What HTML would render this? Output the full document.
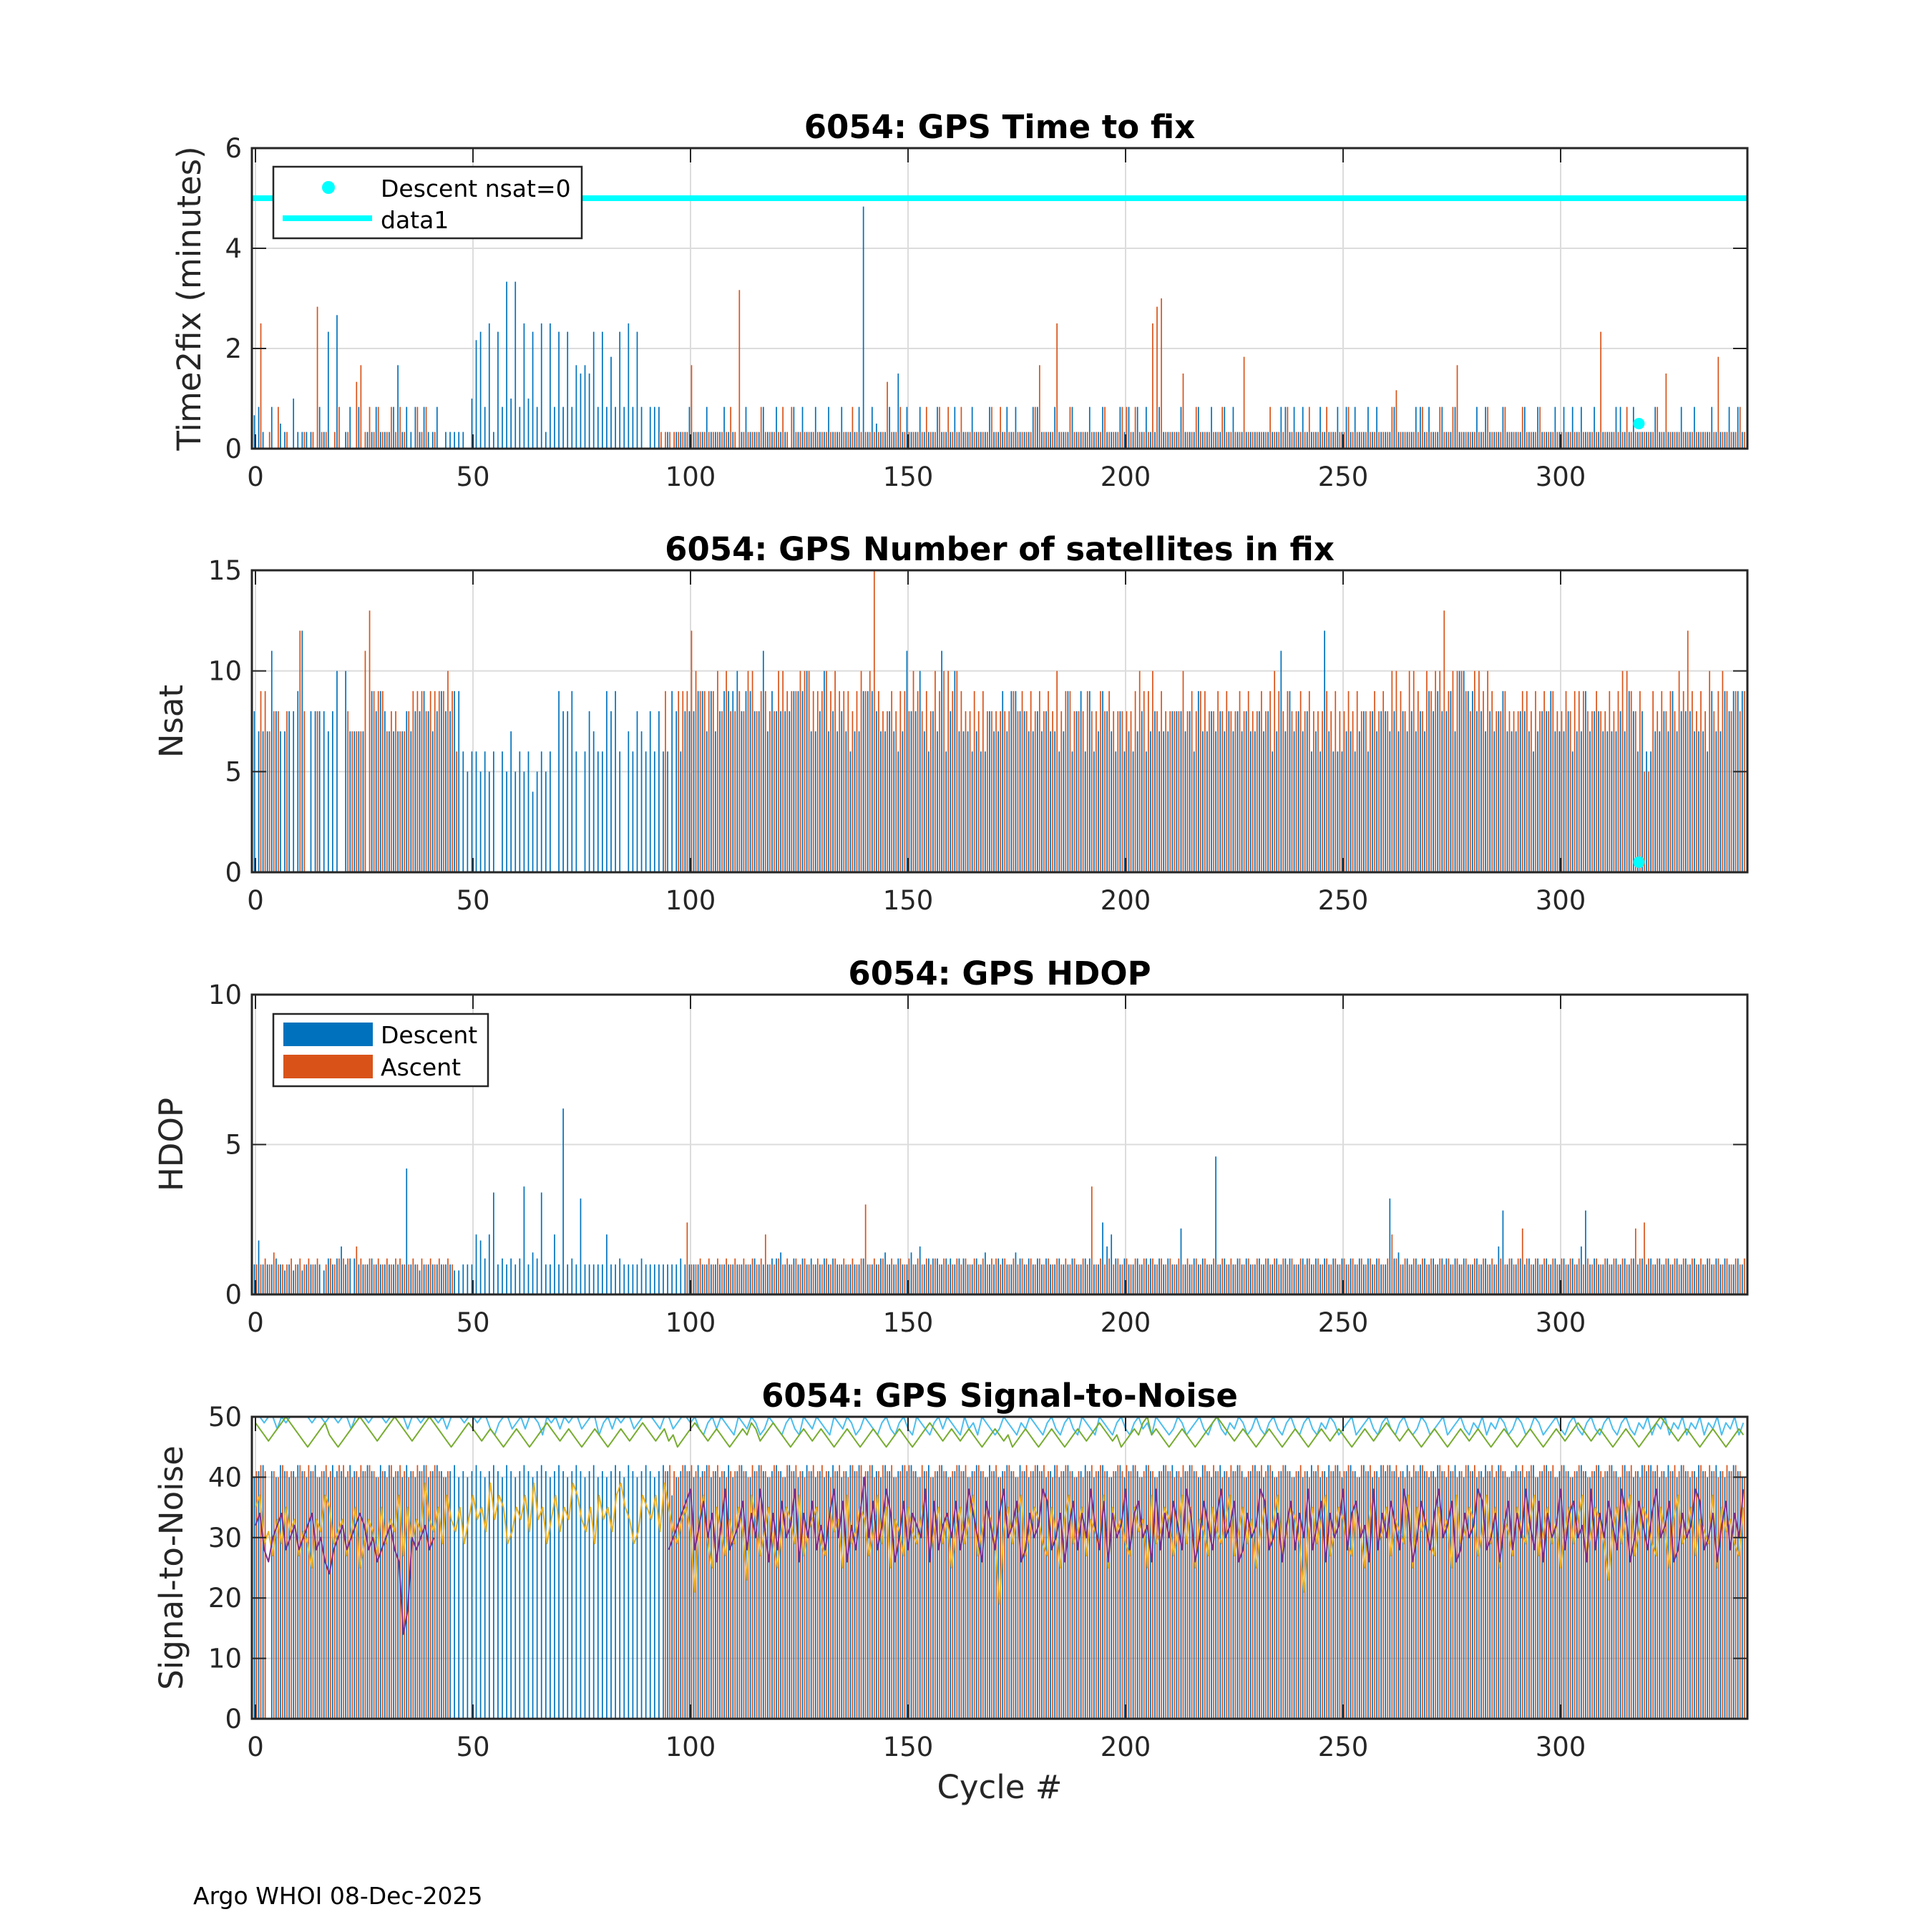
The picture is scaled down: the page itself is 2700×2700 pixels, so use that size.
<!DOCTYPE html>
<html><head><meta charset="utf-8"><title>6054 GPS</title>
<style>
html,body{margin:0;padding:0;background:#fff;}
svg{display:block;font-family:"DejaVu Sans","Liberation Sans",sans-serif;}
</style></head>
<body>
<svg id="fig" width="2700" height="2700" viewBox="0 0 2700 2700" xmlns="http://www.w3.org/2000/svg">
<rect x="0" y="0" width="2700" height="2700" fill="#fff"/>
<text x="270" y="2661" font-size="33" fill="#000">Argo WHOI 08-Dec-2025</text>
<text x="1397" y="2513" font-size="45" fill="#262626" text-anchor="middle">Cycle #</text>
</svg>
<script>
// ---- data (one char per cycle) ----
const xTicks = [0,50,100,150,200,250,300];
// time to fix, base36 units of 10 s
const t2fDescent = "4520503206"+"2222052E0G"+"0250502252"+"225A252525"+"2250222220"+"6DE5F2E5K6"+"K5F6E5F2F5"+"E5E5A9A9E5"+"E5B5E5F5E5"+"0555020222"+"5222522252"+"2025222522"+"5220525225"+"2252252225"+"T253225292"+"5225222522"+"2522252225"+"2225252225"+"5222522252"+"2252252225"+"2525252252"+"2225222522"+"5225252222"+"2222225525"+"2522252225"+"2525225252"+"2252222552"+"5225225222"+"2525222522"+"2252252225"+"2525252252"+"2225522522"+"2252222252"+"2522252225"+"252";
const t2fAscent = "0F02050200"+"0202H22025"+"0208A25252"+"2525200525"+"0200000000"+"0000000000"+"0000000000"+"0000000000"+"0000000000"+"0002222222"+"A222222225"+"2J22225222"+"2525222222"+"2222222522"+"2222282252"+"2222522525"+"2252222225"+"2522222225"+"A222F22522"+"2222252225"+"525222FHI2"+"2229225222"+"2252222B22"+"2225222522"+"2252225222"+"2522222222"+"2572222252"+"225225A222"+"2225222522"+"2522252222"+"222222222E"+"2222252222"+"2252922222"+"222222B222"+"252";
const t2fTicks = [0,2,4,6];
const nsatZeroCycle = [318];
const nsatZeroValue = [0.5];
const refLine = [5];
// number of satellites, hex
const nsatDescent = "8777B87788"+"9C0888878A"+"0A77770989"+"8777787889"+"8789889965"+"6656560657"+"5656456560"+"9889606876"+"6989607687"+"6868669868"+"8899797899"+"9A89988B79"+"8888999A77"+"8A78787677"+"9998778767"+"B88A7687B6"+"8A77767668"+"7797998877"+"8787767968"+"9696798768"+"6767867877"+"7888786977"+"8787878787"+"787867B797"+"878676C766"+"6776786878"+"8787878787"+"9898897AA9"+"9887878977"+"7887678897"+"7786779788"+"7777879868"+"6677879788"+"8777697798"+"999";
const nsatAscent = "0997880800"+"C800800000"+"08777BD999"+"7887789998"+"9999A96000"+"0000000000"+"0000000000"+"0000000000"+"0000000000"+"0000900999"+"CA9999A8A8"+"898AA89988"+"AA999AAA99"+"9A9A99989A"+"9AF9889899"+"8A9898A9AA"+"9A98898988"+"8888989898"+"9898A89988"+"8988989888"+"889A99A898"+"888A898998"+"8989889898"+"8989A98988"+"9898889898"+"8989888989"+"8AA98AA98A"+"9AAD9AAA98"+"AA9A988988"+"8998989898"+"8989998898"+"8989AA9895"+"5989898A9C"+"9898A89A98"+"989";
const nsatTicks = [0,5,10,15];
// HDOP, base36 units of 0.2
const hdopDescent = "5955565454"+"5455554656"+"8566555655"+"55555L5545"+"5555554455"+"5A96AH5656"+"56I576H55A"+"5V565G5555"+"5A55655556"+"5555555565"+"5555555555"+"5555565556"+"6755656565"+"5656555555"+"6555675565"+"5758566656"+"6566556575"+"5665576565"+"6565565565"+"56655C8A65"+"6556566565"+"655B556565"+"5N56556565"+"5656565665"+"5665656565"+"6565656565"+"5G67565656"+"5656656565"+"5656558E56"+"5656565656"+"565658E565"+"5656565656"+"5656565656"+"5655656565"+"565";
const hdopAscent = "5565755565"+"6565605656"+"6608656565"+"6566556565"+"6565650000"+"0000000000"+"0000000000"+"0000000000"+"0000000000"+"000000000C"+"5565656565"+"6565656A55"+"6565656556"+"5656565656"+"F565656565"+"6565656565"+"5656565656"+"6565656565"+"6565656565"+"65I5656565"+"6565656565"+"6565656565"+"6565656565"+"6565656565"+"6565656565"+"6565656565"+"6A65656565"+"6565656565"+"6565656565"+"6B65656565"+"6565656565"+"6565656B6C"+"6565656565"+"6565656565"+"656";
const hdopTicks = [0,5,10];
// SNR bars: 25 + base36
const snrDescent = "FGH0GFHGFG"+"HGFGHFGFHG"+"GFHGFGHGFH"+"GHFGFHGFGH"+"FGHGFGHFGF"+"GHGFGHGFHG"+"FGHGFGHGFG"+"HGFGHGFGHF"+"GFGHGFHGFG"+"HGFGHGCFGH"+"GFHGHFGFGH"+"FGHGFGHGFG"+"HGFHGFGHGF"+"GFGHGFGHGH"+"FGHGFHGFGH"+"GHGFGHFGHG"+"FGHGFGHGFH"+"GFGHGFHGFG"+"HGFGHFGHGF"+"GHGFGHGFGH"+"FGHGFHGFGH"+"GHGFGHGFHG"+"FGHGFGHGFG"+"HGFHGFGHGF"+"GFGHGFGHGH"+"FGHGFHGFGH"+"GHGFGHFGHG"+"FGHGFGHGFH"+"GFGHGFHGFG"+"HGFGHFGHGF"+"GHGFGHGFGH"+"FGHGFHGFGH"+"GHGFGHGFHG"+"FGHGFGHGFG"+"HGF";
const snrAscent = "GHG0GFHGGF"+"HGHGFGHGFH"+"HGFGHGHGFG"+"FHGHGFGHGH"+"GHGFG00000"+"0000000000"+"0000000000"+"0000000000"+"0000000000"+"0000GHGFHG"+"HGFGHGHGFG"+"GHGFHGHGFH"+"GFHGHGFGHG"+"HGFGHGFHGH"+"GHFGHGHFGH"+"HGFHGFGHGF"+"GHGHFGHGFG"+"HFGHGFGHGH"+"GHGFHGHGFG"+"FGHGHGFGHG"+"HGHFGHGFGH"+"GFGHGHGFHG"+"HGFGHGHFGH"+"GHGHFGHGFG"+"HGFGHGFGHG"+"GHGFHGHGFH"+"HGHGFGHGHG"+"GFHGHGFGHG"+"HGFGHGHGFG"+"GHGHFGHGHF"+"HGFGHGFGHG"+"GHGFHGHGFH"+"HGHGFGHGHG"+"GFHGHGFGHG"+"HGF";
// SNR lines: blue/green = 20 + base36 ; purple = 2*base36-16 ; yellow = 2*base36-13 ; '-' = gap
const snrBlue = "UUTUUSUTUU"+"UUUTUUTUUT"+"UUSUUUTUUU"+"TUUUUSUUTU"+"UUTUSUUUTU"+"UTUUSRTUUS"+"TUSUUTRUTU"+"SUTUUSTUUR"+"TUSUTUUSTU"+"UUTSUUSTUU"+"TUSRTUSUTS"+"RUTSUTRSUT"+"SRTUSRUTSU"+"TSRUTSUTRS"+"UTSRTUSRTU"+"SRUTSRTUSU"+"TSRUSTRUTS"+"RSUTSRTSUT"+"SRTUSRTUSR"+"UTSRUTSRTU"+"SRTUSTRUTS"+"RSUTRSTUSR"+"TUSRTSUTRS"+"USRTUSRTUS"+"RTUSRTSUTR"+"STURSTUSRT"+"USRTUSRSUT"+"RSTURSTUSR"+"TSURTSUTRS"+"UTRSUTRSTU"+"SRTUSRTUSR"+"TUSRTUSRTS"+"URTSURTSUR"+"TSURTSURTS"+"URT";
const snrGreen = "TSRQRSTUTS"+"RQPQRSTRQP"+"QRSTUTSRQR"+"STUTSRQRST"+"UTSRQPQRST"+"SRQRSRQPQR"+"SRQPQRSTSR"+"QRSRQPQRSR"+"QPQRSRQRST"+"SRQRSQRPQR"+"STSRQRSRQP"+"QRSRTSQRST"+"SRQPQRSRQR"+"SRQPQRSRQP"+"QRSRQPQRSR"+"QPQRSTSRQR"+"SRQRSRQPQR"+"SRQRPQRSRQ"+"PQRSRQPQRS"+"RQRSTSRQRP"+"QRSRTURSRQ"+"PQRSRQPQRS"+"TUTSRQRSRQ"+"PQRSRQPQRS"+"RQPQRSRQRS"+"RQPQRSRQRS"+"TSRQRSRQPQ"+"RSRQPQRSRQ"+"RSRQPQRSRQ"+"PQRSRQPQRS"+"RQRSTSRQRS"+"RQPQRSRQPQ"+"RSTUTSRQRS"+"RQPQRSRQPQ"+"RSR";
const snrPurple = "OPMLNOPMNO"+"MNOPMNLKMN"+"OMNOPOMNLM"+"NOMLFHNMNO"+"MN--------"+"----------"+"----------"+"----------"+"----------"+"-----MNOPQ"+"RMOQNPLORM"+"NOQMPNROLP"+"MQNORLPNQM"+"OMPRNQLOMP"+"SNQMORPLNQ"+"MPONRLQMOP"+"NQMORPNLQO"+"MPRNOQLMPN"+"ORQMNPLOQM"+"PNROMQLPNO"+"RMPQNOLRMP"+"NQOMRPLNQO"+"MPRNOQLMPN"+"ORQMNPLOQM"+"PNRMOQLPNO"+"RMPQNOLRMP"+"NQOMRPLNQO"+"MPRNOQLMPN"+"ORQMNPLOQM"+"PNROMQLPNO"+"RMPQNOLRMP"+"NQOMRPLNQO"+"MPRNOQLMPN"+"ORQMNPLOQM"+"PNR";
const snrYellow = "OPLMKNLOMN"+"KMLJNMPOLM"+"NKMOJLNMKO"+"LNMPKOLNMQ"+"NMOLPNMOLN"+"PNOMQNPOLM"+"ONPMQNOLNP"+"MONQPNMOLP"+"NOMPQONLMP"+"ONPMQOMLNO"+"MHNPLJOMKN"+"LOMIPNKMOL"+"JMONLPKMNO"+"LKOMNJPLMO"+"NKMPLOJNMK"+"OMLNPKMOLN"+"JMOLNPKMON"+"LGMOLNPKMO"+"NLKOMJNPLM"+"OKNMLPJOMN"+"LKOMNJPLMO"+"NKMPLOJNMK"+"OMLNPKMOLN"+"JMOLNPKMON"+"LHMOLNPKMO"+"NLKOMJNPLM"+"OKNMLPJOMN"+"LKOMNJPLMO"+"NKMPLOJNMK"+"OMLNPKMOLN"+"JMOLNPKMON"+"LIMOLNPKMO"+"NLKOMJNPLM"+"OKNMLPJOMN"+"LKO";
const snrTicks = [0,10,20,30,40,50];

// ---- drawing ----
const NS = "http://www.w3.org/2000/svg";
const svg = document.getElementById('fig');
const X0 = 357, PXC = 6.08, AXL = 352, AXR = 2442, BW = 1.7;
function xs(c){ return X0 + c*PXC; }
function dec(str, unit, off){ const out=[]; for(const ch of str){ if(ch==='-'){out.push(null);} else { const v=parseInt(ch,36); out.push(off + v*unit);} } return out; }
function mk(tag, attrs, parent){ const e=document.createElementNS(NS,tag); for(const k in attrs) e.setAttribute(k, attrs[k]); (parent||svg).appendChild(e); return e; }

function panel(p){
  const g = mk('g',{});
  
  
  const ys = v => p.bot - (v - p.ymin)/(p.ymax - p.ymin)*(p.bot - p.top);
  for(const t of xTicks){ const l=mk('line',{x1:xs(t),x2:xs(t),y1:p.top,y2:p.bot,stroke:'#dcdcdc','stroke-width':2},g);
      }
  for(const t of p.ticks){ const l=mk('line',{x1:AXL,x2:AXR,y1:ys(t),y2:ys(t),stroke:'#dcdcdc','stroke-width':2},g);
      }
  const clipId = 'clip'+p.name;
  const cp = mk('clipPath',{id:clipId},g); mk('rect',{x:AXL,y:p.top,width:AXR-AXL,height:p.bot-p.top},cp);
  const plot = mk('g',{'clip-path':'url(#'+clipId+')'},g);
  
  
  p.draw(plot, ys);
  const box = mk('rect',{x:AXL,y:p.top,width:AXR-AXL,height:p.bot-p.top,fill:'none',stroke:'#262626','stroke-width':3},g);
   
  for(const t of xTicks){
    mk('line',{x1:xs(t),x2:xs(t),y1:p.bot,y2:p.bot-20,stroke:'#262626','stroke-width':2},g);
    mk('line',{x1:xs(t),x2:xs(t),y1:p.top,y2:p.top+20,stroke:'#262626','stroke-width':2},g);
    const tx=mk('text',{x:xs(t),y:p.bot+52,'font-size':37,fill:'#262626','text-anchor':'middle'},g); tx.textContent=t;
     
  }
  for(const t of p.ticks){
    mk('line',{x1:AXL,x2:AXL+20,y1:ys(t),y2:ys(t),stroke:'#262626','stroke-width':2},g);
    mk('line',{x1:AXR,x2:AXR-20,y1:ys(t),y2:ys(t),stroke:'#262626','stroke-width':2},g);
    const tx=mk('text',{x:AXL-14,y:ys(t)+13,'font-size':37,fill:'#262626','text-anchor':'end'},g); tx.textContent=t;
     
  }
  const ti=mk('text',{x:(AXL+AXR)/2,y:p.top-14,'font-size':45,'font-weight':'bold',fill:'#000','text-anchor':'middle'},g); ti.textContent=p.title;
   
  const yl=mk('text',{x:p.ylx,y:(p.top+p.bot)/2,'font-size':45,fill:'#262626','text-anchor':'middle',transform:'rotate(-90 '+p.ylx+' '+(p.top+p.bot)/2+')'},g); yl.textContent=p.ylabel;
   
  if(p.legend) p.legend(g);
}
function bars(plot, ys, vals, off, color, name){
  const n=Math.min(vals.length,344);
  for(let i=0;i<n;i++){ const v=vals[i]; if(!v) continue;
    const r=mk('rect',{x:xs(i)+off,y:ys(v),width:BW,height:ys(0)-ys(v),fill:color},plot);
      }
}
function line(plot, ys, vals, color, name, w){
  let d='', pen=false; const n=Math.min(vals.length,344);
  for(let i=0;i<n;i++){ const v=vals[i]; if(v===null){pen=false;continue;}
    d+=(pen?'L':'M')+xs(i).toFixed(1)+' '+ys(v).toFixed(1)+' '; pen=true; }
  const p=mk('path',{d:d,fill:'none',stroke:color,'stroke-width':w||2,'stroke-linejoin':'round'},plot);
   
}
const BLUE='#0072BD', ORANGE='#D95319';

panel({name:'time-to-fix-panel', top:207, bot:627, ymin:0, ymax:6, ticks:t2fTicks, title:'6054: GPS Time to fix', ylabel:'Time2fix (minutes)', ylx:280,
  draw:(plot,ys)=>{
    bars(plot,ys,dec(t2fDescent,1/6,0),-2.4,BLUE,'descent-time-bar');
    bars(plot,ys,dec(t2fAscent,1/6,0),0.6,ORANGE,'ascent-time-bar');
    const rl=mk('line',{x1:AXL,x2:AXR,y1:ys(refLine[0]),y2:ys(refLine[0]),stroke:'#00FFFF','stroke-width':8},plot);
     
    for(let i=0;i<nsatZeroCycle.length;i++){ const c=mk('circle',{cx:xs(nsatZeroCycle[i]),cy:ys(nsatZeroValue[i]),r:8,fill:'#00FFFF'},plot);
        }
  },
  legend:(g)=>{
    const lg=mk('g',{},g);  
    mk('rect',{x:382,y:233,width:431,height:100,fill:'#fff',stroke:'#262626','stroke-width':2.5},lg);
    const m=mk('circle',{cx:459,cy:262,r:9,fill:'#00FFFF'},lg);  
    const l=mk('line',{x1:395,x2:520,y1:305,y2:305,stroke:'#00FFFF','stroke-width':8},lg);  
    const t1=mk('text',{x:532,y:275,'font-size':33,fill:'#000'},lg); t1.textContent='Descent nsat=0';  
    const t2=mk('text',{x:532,y:319,'font-size':33,fill:'#000'},lg); t2.textContent='data1';  
  }});

panel({name:'nsat-panel', top:797, bot:1219, ymin:0, ymax:15, ticks:nsatTicks, title:'6054: GPS Number of satellites in fix', ylabel:'Nsat', ylx:255,
  draw:(plot,ys)=>{
    bars(plot,ys,dec(nsatDescent,1,0),-2.4,BLUE,'descent-nsat-bar');
    bars(plot,ys,dec(nsatAscent,1,0),0.6,ORANGE,'ascent-nsat-bar');
    for(let i=0;i<nsatZeroCycle.length;i++){ const c=mk('circle',{cx:xs(nsatZeroCycle[i]),cy:ys(nsatZeroValue[i]),r:8,fill:'#00FFFF'},plot);
        }
  }});

panel({name:'hdop-panel', top:1390, bot:1809, ymin:0, ymax:10, ticks:hdopTicks, title:'6054: GPS HDOP', ylabel:'HDOP', ylx:255,
  draw:(plot,ys)=>{
    bars(plot,ys,dec(hdopDescent,0.2,0),-2.4,BLUE,'descent-hdop-bar');
    bars(plot,ys,dec(hdopAscent,0.2,0),0.6,ORANGE,'ascent-hdop-bar');
  },
  legend:(g)=>{
    const lg=mk('g',{},g);  
    mk('rect',{x:382,y:1417,width:300,height:101,fill:'#fff',stroke:'#262626','stroke-width':2.5},lg);
    const a=mk('rect',{x:396,y:1429,width:125,height:33,fill:BLUE},lg);  
    const b=mk('rect',{x:396,y:1474,width:125,height:33,fill:ORANGE},lg);  
    const t1=mk('text',{x:532,y:1458,'font-size':33,fill:'#000'},lg); t1.textContent='Descent';  
    const t2=mk('text',{x:532,y:1503,'font-size':33,fill:'#000'},lg); t2.textContent='Ascent';  
  }});

panel({name:'snr-panel', top:1980, bot:2402, ymin:0, ymax:50, ticks:snrTicks, title:'6054: GPS Signal-to-Noise', ylabel:'Signal-to-Noise', ylx:255,
  draw:(plot,ys)=>{
    const d=dec(snrDescent,1,25).map((v,i)=>snrDescent[i]==='0'?0:v);
    const a=dec(snrAscent,1,25).map((v,i)=>snrAscent[i]==='0'?0:v);
    bars(plot,ys,d,-2.4,BLUE,'descent-snr-bar');
    bars(plot,ys,a,0.6,ORANGE,'ascent-snr-bar');
    line(plot,ys,dec(snrBlue,1,20),'#4DBEEE','snr-line-max-descent',2);
    line(plot,ys,dec(snrGreen,1,20),'#77AC30','snr-line-max-ascent',2);
    line(plot,ys,dec(snrYellow,2,-13),'#EDB120','snr-line-mean-ascent',2);
    line(plot,ys,dec(snrPurple,2,-16),'#7E2F8E','snr-line-mean-descent',2);
  }});
</script>
</body></html>
